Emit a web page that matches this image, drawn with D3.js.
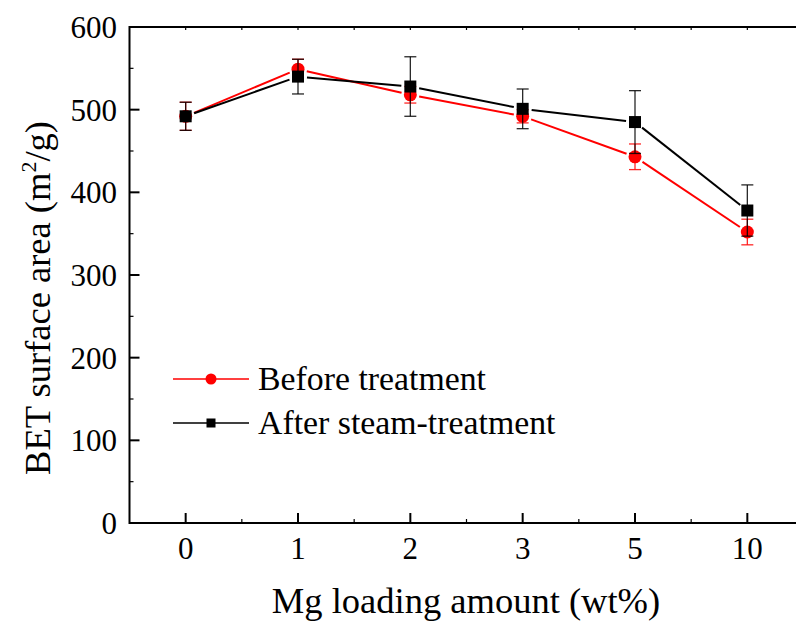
<!DOCTYPE html>
<html>
<head>
<meta charset="utf-8">
<script src="https://cdn.jsdelivr.net/npm/d3@7"></script>
<style>
  body { margin: 0; background: #fff; }
  svg { display: block; font-family: "Liberation Serif", "Times New Roman", serif; }
</style>
</head>
<body>
<svg id="chart" width="796" height="625"></svg>
<script>
// data
const categories = ["0", "1", "2", "3", "5", "10"];
const beforeValues = [492, 549, 518, 492, 443, 352];
const beforeErrors = [17, 12, 10, 8, 15.5, 15.5];
const afterValues = [492, 540, 528, 501, 485, 378];
const afterErrors = [17, 21, 36, 24, 38, 31];
const yTicks = [0, 100, 200, 300, 400, 500, 600];
const seriesNames = ["Before treatment", "After steam-treatment"];

const svg = d3.select("#chart");
const plotLeft = 129.5, plotTop = 27, plotBottom = 523, plotRight = 803.5;

const x = d3.scalePoint().domain(categories).range([plotLeft, plotRight]).padding(0.5);
const y = d3.scaleLinear().domain([0, 600]).range([plotBottom, plotTop]);
const step = x.step();

const series = [
  {name: seriesNames[0], values: beforeValues, errors: beforeErrors, color: "#ff0000", shape: "circle"},
  {name: seriesNames[1], values: afterValues, errors: afterErrors, color: "#000000", shape: "square"}
];

// axes frame
const axisG = svg.append("g").attr("stroke", "#000").attr("fill", "none");
axisG.append("line").attr("x1", plotLeft).attr("x2", plotRight).attr("y1", plotBottom).attr("y2", plotBottom).attr("stroke-width", 2);
axisG.append("line").attr("x1", plotLeft).attr("x2", plotRight).attr("y1", plotTop).attr("y2", plotTop).attr("stroke-width", 2);
axisG.append("line").attr("x1", plotLeft).attr("x2", plotLeft).attr("y1", plotTop - 1).attr("y2", plotBottom + 1).attr("stroke-width", 2);

// y ticks
yTicks.forEach(v => {
  axisG.append("line").attr("x1", plotLeft).attr("x2", plotLeft + 10).attr("y1", y(v)).attr("y2", y(v)).attr("stroke-width", 2);
});
d3.range(50, 600, 100).forEach(v => {
  axisG.append("line").attr("x1", plotLeft).attr("x2", plotLeft + 4).attr("y1", y(v)).attr("y2", y(v)).attr("stroke-width", 1.2);
});
svg.append("g").selectAll("text").data(yTicks).join("text")
  .attr("x", 117).attr("y", d => y(d) + 11)
  .attr("text-anchor", "end").attr("font-size", 31).text(d => d);

// x ticks
categories.forEach(c => {
  axisG.append("line").attr("x1", x(c)).attr("x2", x(c)).attr("y1", plotBottom).attr("y2", plotBottom - 10).attr("stroke-width", 2);
  axisG.append("line").attr("x1", x(c)).attr("x2", x(c)).attr("y1", plotTop).attr("y2", plotTop + 3).attr("stroke-width", 1.2);
  axisG.append("line").attr("x1", x(c) + step / 2).attr("x2", x(c) + step / 2).attr("y1", plotBottom).attr("y2", plotBottom - 4).attr("stroke-width", 1.2);
  axisG.append("line").attr("x1", x(c) + step / 2).attr("x2", x(c) + step / 2).attr("y1", plotTop).attr("y2", plotTop + 3).attr("stroke-width", 1.2);
});
svg.append("g").selectAll("text").data(categories).join("text")
  .attr("x", d => x(d)).attr("y", 559)
  .attr("text-anchor", "middle").attr("font-size", 31).text(d => d);

// axis titles
svg.append("text").attr("x", 466).attr("y", 613).attr("text-anchor", "middle")
  .attr("font-size", 36.5).text("Mg loading amount (wt%)");
const yTitle = svg.append("text").attr("transform", "translate(50,298) rotate(-90)")
  .attr("text-anchor", "middle").attr("font-size", 36.5);
yTitle.append("tspan").text("BET surface area (m");
yTitle.append("tspan").attr("font-size", 22).attr("dy", -14).text("2");
yTitle.append("tspan").attr("dy", 14).text("/g)");

function drawMarker(g, shape, cx, cy, size, color) {
  if (shape === "circle") {
    g.append("circle").attr("cx", cx).attr("cy", cy).attr("r", size / 2).attr("fill", color);
  } else {
    g.append("rect").attr("x", cx - size / 2).attr("y", cy - size / 2)
      .attr("width", size).attr("height", size).attr("fill", color);
  }
}

// series
series.forEach(s => {
  const g = svg.append("g");
  const pts = categories.map((c, i) => [x(c), y(s.values[i])]);
  // connecting segments, shortened around the markers
  for (let i = 0; i < pts.length - 1; i++) {
    const [x1, y1] = pts[i], [x2, y2] = pts[i + 1];
    const len = Math.hypot(x2 - x1, y2 - y1), gap = 9;
    const ux = (x2 - x1) / len, uy = (y2 - y1) / len;
    g.append("line")
      .attr("x1", x1 + ux * gap).attr("y1", y1 + uy * gap)
      .attr("x2", x2 - ux * gap).attr("y2", y2 - uy * gap)
      .attr("stroke", s.color).attr("stroke-width", 2);
  }
  // error bars
  categories.forEach((c, i) => {
    const cx = x(c), hi = y(s.values[i] + s.errors[i]), lo = y(s.values[i] - s.errors[i]);
    g.append("line").attr("x1", cx).attr("x2", cx).attr("y1", hi).attr("y2", lo)
      .attr("stroke", s.color).attr("stroke-width", 1.3).attr("stroke-opacity", 0.85);
    [hi, lo].forEach(yy => {
      g.append("line").attr("x1", cx - 6).attr("x2", cx + 6).attr("y1", yy).attr("y2", yy)
        .attr("stroke", s.color).attr("stroke-width", 1.3).attr("stroke-opacity", 0.85);
    });
  });
  pts.forEach(p => drawMarker(g, s.shape, p[0], p[1], s.shape === "circle" ? 13 : 12, s.color));
});

// legend
series.forEach((s, i) => {
  const ly = 379 + i * 44;
  const g = svg.append("g");
  g.append("line").attr("x1", 173).attr("x2", 249).attr("y1", ly).attr("y2", ly)
    .attr("stroke", s.color).attr("stroke-width", 1.5);
  drawMarker(g, s.shape, 211, ly, s.shape === "circle" ? 11 : 9, s.color);
  g.append("text").attr("x", 258).attr("y", ly + 11).attr("font-size", 33.8).text(s.name);
});
</script>
</body>
</html>
